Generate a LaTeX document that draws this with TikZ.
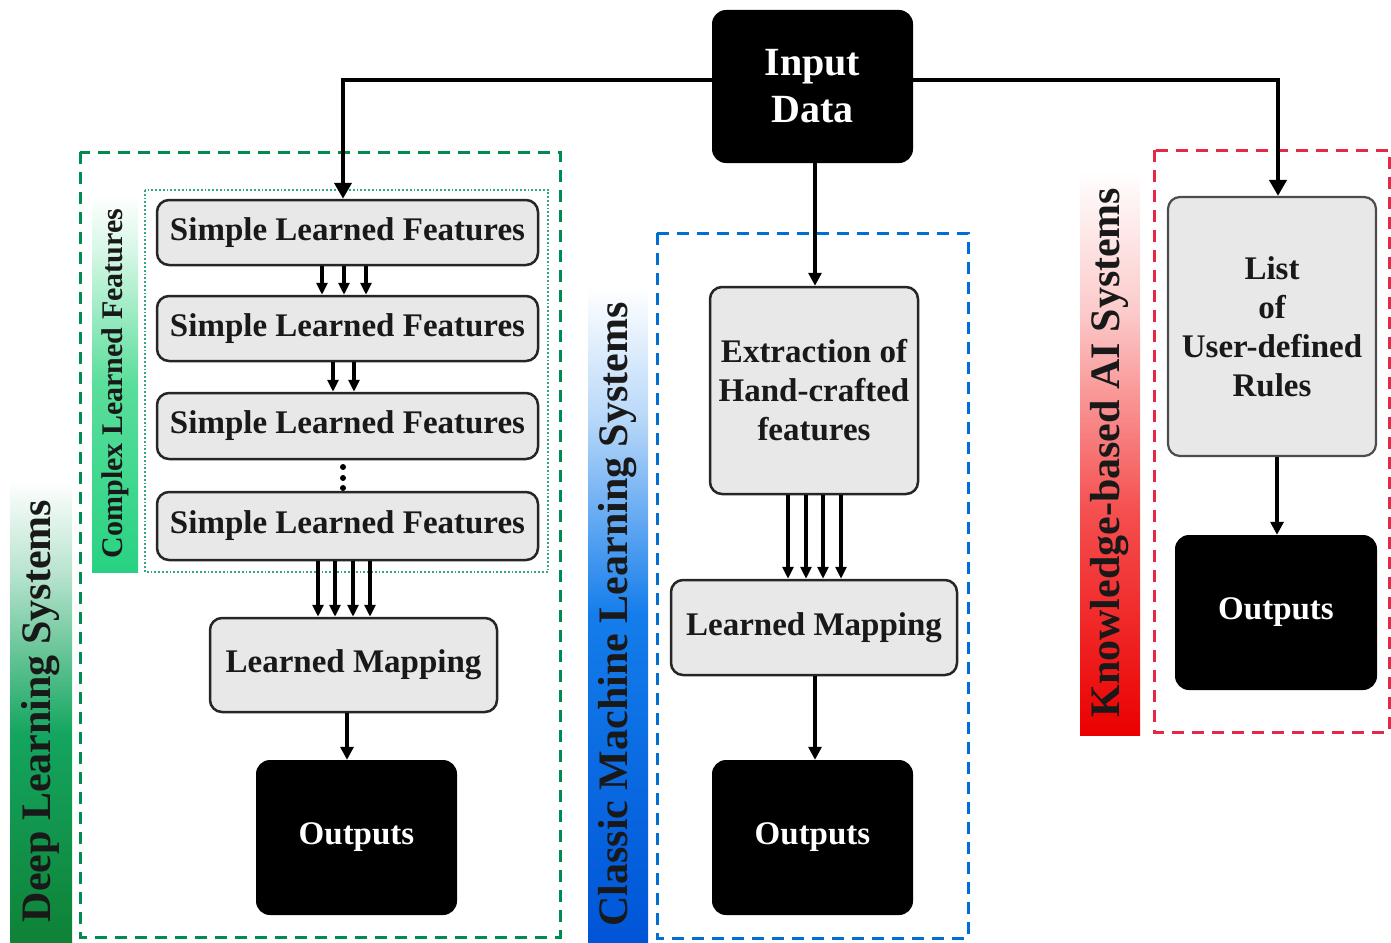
\documentclass[tikz,border=0pt]{standalone}
\usepackage{fontspec}
\setmainfont{Liberation Serif}
\usetikzlibrary{arrows.meta}

\definecolor{dlgreen}{RGB}{0,140,80}
\definecolor{dlgreendark}{RGB}{15,130,55}
\definecolor{dlgreenmid}{RGB}{20,165,95}
\definecolor{cfgreen}{RGB}{40,210,130}
\definecolor{cfgreenmid}{RGB}{90,222,155}
\definecolor{dotgreen}{RGB}{50,170,125}
\definecolor{cmblue}{RGB}{0,110,210}
\definecolor{cmbluedark}{RGB}{0,85,215}
\definecolor{cmbluemid}{RGB}{20,125,235}
\definecolor{kbred}{RGB}{230,40,70}
\definecolor{kbreddark}{RGB}{235,0,0}
\definecolor{kbredmid}{RGB}{245,80,80}
\definecolor{boxgray}{RGB}{232,232,232}

% colour fades for the side labels: strong colour at the bottom, white at the top
% (a shaded path is fitted to the band 25bp--75bp of the shading)
\pgfdeclareverticalshading{dlfade}{100bp}{color(0bp)=(dlgreendark); color(25bp)=(dlgreendark); color(47.5bp)=(dlgreenmid); color(65bp)=(white!70!dlgreenmid); color(75bp)=(white); color(100bp)=(white)}
\pgfdeclareverticalshading{cffade}{100bp}{color(0bp)=(cfgreen); color(25bp)=(cfgreen); color(50bp)=(cfgreenmid); color(67.5bp)=(white!75!cfgreenmid); color(75bp)=(white); color(100bp)=(white)}
\pgfdeclareverticalshading{cmfade}{100bp}{color(0bp)=(cmbluedark); color(25bp)=(cmbluedark); color(50bp)=(cmbluemid); color(65bp)=(white!70!cmbluemid); color(75bp)=(white); color(100bp)=(white)}
\pgfdeclareverticalshading{kbfade}{100bp}{color(0bp)=(kbreddark); color(25bp)=(kbreddark); color(45bp)=(kbredmid); color(62.5bp)=(white!70!kbredmid); color(75bp)=(white); color(100bp)=(white)}

\tikzset{
  graybox/.style={draw=black!85, line width=2.5pt, fill=boxgray, rounded corners=12pt,
    align=center, inner sep=0pt, text=black!90,
    font=\bfseries\fontsize{33}{39}\selectfont},
  blackbox/.style={fill=black, rounded corners=14pt, align=center, inner sep=0pt,
    text=white, font=\bfseries\fontsize{33}{39}\selectfont},
  frame/.style={line width=3pt, dash pattern=on 12pt off 8pt},
  sidelabel/.style={rotate=90, inner sep=0pt, text=black!90,
    font=\bfseries\fontsize{42}{48}\selectfont},
  mainarrow/.style={line width=4.5pt, -{Triangle[length=16pt,width=17pt]}},
  linkarrow/.style={line width=3.2pt, -{Triangle[length=13pt,width=13pt]}},
  multiarrow/.style={line width=3.2pt, -{Triangle[length=12pt,width=11pt]}},
}

\begin{document}
\begin{tikzpicture}[x=1pt,y=-1pt]
\useasboundingbox (0,0) rectangle (1391,942);

% --- group frames ---
\draw[frame, draw=dlgreen] (80,152) rectangle (560,937);
\draw[frame, draw=cmblue] (657,233) rectangle (968,938);
\draw[frame, draw=kbred] (1154,150) rectangle (1389,732);
\draw[dotted, line width=1.8pt, draw=dotgreen] (145,190) rectangle (548,572);

% --- side label backgrounds ---
\shade[shading=dlfade] (10,480) rectangle (72,942);
\shade[shading=cffade] (92,195) rectangle (138,572);
\shade[shading=cmfade] (588,287) rectangle (648,942);
\shade[shading=kbfade] (1080,170) rectangle (1140,735);

% --- side labels ---
\node[sidelabel] (dlsys) at (41,711) {Deep Learning Systems};
\node[sidelabel, font=\bfseries\fontsize{30}{36}\selectfont] (cfeat) at (115,383.5) {Complex Learned Features};
\node[sidelabel] (cmsys) at (618,614.5) {Classic Machine Learning Systems};
\node[sidelabel] (kbsys) at (1110,452.5) {Knowledge-based AI Systems};

% --- input ---
\node[blackbox, font=\bfseries\fontsize{40}{47}\selectfont,
      minimum width=201pt, minimum height=153pt] (input) at (812.5,86.5) {Input\\Data};

% --- deep learning column ---
\node[graybox, minimum width=381pt, minimum height=65pt] (s1) at (347.5,232.5) {Simple Learned Features};
\node[graybox, minimum width=381pt, minimum height=65pt] (s2) at (347.5,328.5) {Simple Learned Features};
\node[graybox, minimum width=381pt, minimum height=66pt] (s3) at (347.5,426) {Simple Learned Features};
\node[graybox, minimum width=381pt, minimum height=68pt] (s4) at (347.5,526) {Simple Learned Features};
\node[graybox, minimum width=287pt, minimum height=94pt] (dlmap) at (353.5,665) {Learned Mapping};
\node[blackbox, minimum width=201pt, minimum height=155pt] (dlout) at (356.5,837.5) {Outputs};

% --- classic machine learning column ---
\node[graybox, minimum width=208pt, minimum height=207pt] (hand) at (814,390.5)
      {Extraction of\\Hand-crafted\\features};
\node[graybox, minimum width=286pt, minimum height=95pt] (cmmap) at (814,627.5) {Learned Mapping};
\node[blackbox, minimum width=201pt, minimum height=155pt] (cmout) at (812.5,837.5) {Outputs};

% --- knowledge-based column ---
\node[graybox, draw=black!70, line width=2.2pt, minimum width=208pt, minimum height=259pt]
      (rules) at (1272,326.5) {List\\of\\User-defined\\Rules};
\node[blackbox, minimum width=202pt, minimum height=155pt] (kbout) at (1276,612.5) {Outputs};

% --- connectors from the input ---
\coordinate (tl) at (343,80);
\coordinate (tr) at (1278,80);
\draw[mainarrow] (input.west |- tl) -| (343,0 |- s1.north);
\draw[mainarrow] (input.east |- tr) -| (1278,0 |- rules.north);
\draw[linkarrow] (815,0 |- input.south) -- (815,0 |- hand.north);

% --- feature stack links ---
\foreach \x in {322,344,366}
  \draw[multiarrow] (\x,0 |- s1.south) -- (\x,0 |- s2.north);
\foreach \x in {333,354}
  \draw[multiarrow] (\x,0 |- s2.south) -- (\x,0 |- s3.north);
\foreach \y in {467,478,488}
  \fill (343,\y) circle (3pt);
\foreach \x in {318,335,353,370}
  \draw[multiarrow] (\x,0 |- s4.south) -- (\x,0 |- dlmap.north);
\draw[linkarrow] (347,0 |- dlmap.south) -- (347,0 |- dlout.north);

% --- classic links ---
\foreach \x in {788,806,823,841}
  \draw[multiarrow] (\x,0 |- hand.south) -- (\x,0 |- cmmap.north);
\draw[linkarrow] (815,0 |- cmmap.south) -- (815,0 |- cmout.north);

% --- knowledge-based link ---
\draw[linkarrow] (1277,0 |- rules.south) -- (1277,0 |- kbout.north);
\end{tikzpicture}
\end{document}
